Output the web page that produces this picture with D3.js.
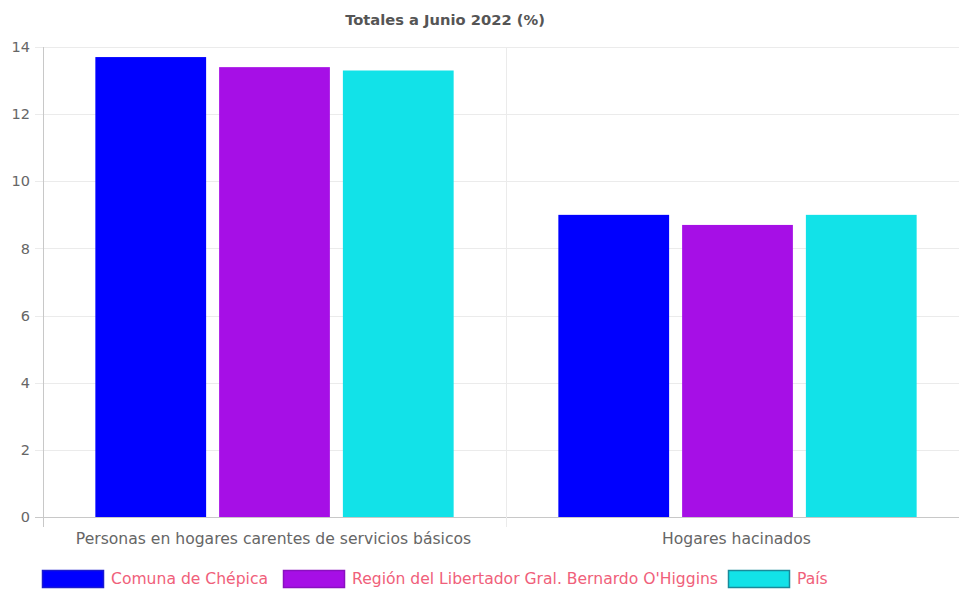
<!DOCTYPE html>
<html><head><meta charset="utf-8">
<script src="https://cdn.jsdelivr.net/npm/d3@7"></script>
<style>html,body{margin:0;padding:0;background:#fff;overflow:hidden}svg{display:block}</style>
</head><body>
<script>
const categories = ["Personas en hogares carentes de servicios básicos", "Hogares hacinados"];
const seriesNames = ["Comuna de Chépica", "Región del Libertador Gral. Bernardo O'Higgins", "País"];
const seriesColors = ["#0000ff", "#a60fe6", "#12e2e8"];
const seriesBorders = ["#1a1ad0", "#8a10c0", "#1a8a9a"];
const comuna = [13.7, 9.0];
const region = [13.4, 8.7];
const pais = [13.3, 9.0];
const yTicks = [0, 2, 4, 6, 8, 10, 12, 14];
const title = "Totales a Junio 2022 (%)";

(function () {
const W = 959, H = 590;
const font = "'DejaVu Sans', Verdana, sans-serif";
const svg = d3.select("body").append("svg").attr("width", W).attr("height", H);

const pLeft = 43, pRight = 969, pTop = 47, pBottom = 517;
const x0 = d3.scaleBand().domain(categories).range([pLeft, pRight]).paddingInner(0).paddingOuter(0);
const x1 = d3.scaleBand().domain(seriesNames).range([0, x0.bandwidth()]).paddingInner(0.105).paddingOuter(0.423);
const y = d3.scaleLinear().domain([0, 14]).range([pBottom, pTop]);

svg.append("g").selectAll("line").data(yTicks).join("line")
  .attr("x1", pLeft - 8).attr("x2", pRight)
  .attr("y1", d => Math.round(y(d)) + 0.5).attr("y2", d => Math.round(y(d)) + 0.5)
  .attr("stroke", d => d === 0 ? "#c8c8c8" : "#ebebeb").attr("stroke-width", 1);

const bounds = [pLeft, pLeft + x0.bandwidth(), pRight];
svg.append("g").selectAll("line").data(bounds).join("line")
  .attr("x1", d => Math.round(d) + 0.5).attr("x2", d => Math.round(d) + 0.5)
  .attr("y1", pTop).attr("y2", pBottom + 10)
  .attr("stroke", (d, i) => i === 0 ? "#c8c8c8" : "#ebebeb");

svg.append("g").selectAll("text").data(yTicks).join("text")
  .attr("x", pLeft - 13).attr("y", d => y(d)).attr("dy", "0.35em")
  .attr("text-anchor", "end").attr("fill", "#666").attr("font-family", font).attr("font-size", 14.5)
  .text(d => d);

const data = [comuna, region, pais];
const g = svg.append("g");
categories.forEach((c, ci) => {
  seriesNames.forEach((s, si) => {
    const v = data[si][ci];
    g.append("rect")
      .attr("x", x0(c) + x1(s)).attr("width", x1.bandwidth())
      .attr("y", y(v)).attr("height", y(0) - y(v))
      .attr("fill", seriesColors[si]);
  });
});

svg.append("g").selectAll("text").data(categories).join("text")
  .attr("x", d => x0(d) + x0.bandwidth() / 2 - 1).attr("y", 544)
  .attr("text-anchor", "middle").attr("fill", "#666").attr("font-family", font).attr("font-size", 15.6)
  .text(d => d);

svg.append("text").attr("x", 445).attr("y", 25).attr("text-anchor", "middle")
  .attr("fill", "#555").attr("font-family", font).attr("font-size", 14.7).attr("font-weight", "bold")
  .text(title);

const legendX = [42, 283, 728];
const lg = svg.append("g");
seriesNames.forEach((s, i) => {
  lg.append("rect").attr("x", legendX[i] + 0.5).attr("y", 570.5).attr("width", 61).attr("height", 17)
    .attr("fill", seriesColors[i]).attr("stroke", seriesBorders[i]).attr("stroke-width", 1.5);
  lg.append("text").attr("x", legendX[i] + 69).attr("y", 579).attr("dy", "0.35em")
    .attr("fill", "#f0607a").attr("font-family", font).attr("font-size", 15.6).text(s);
});
})();
</script>
</body></html>
